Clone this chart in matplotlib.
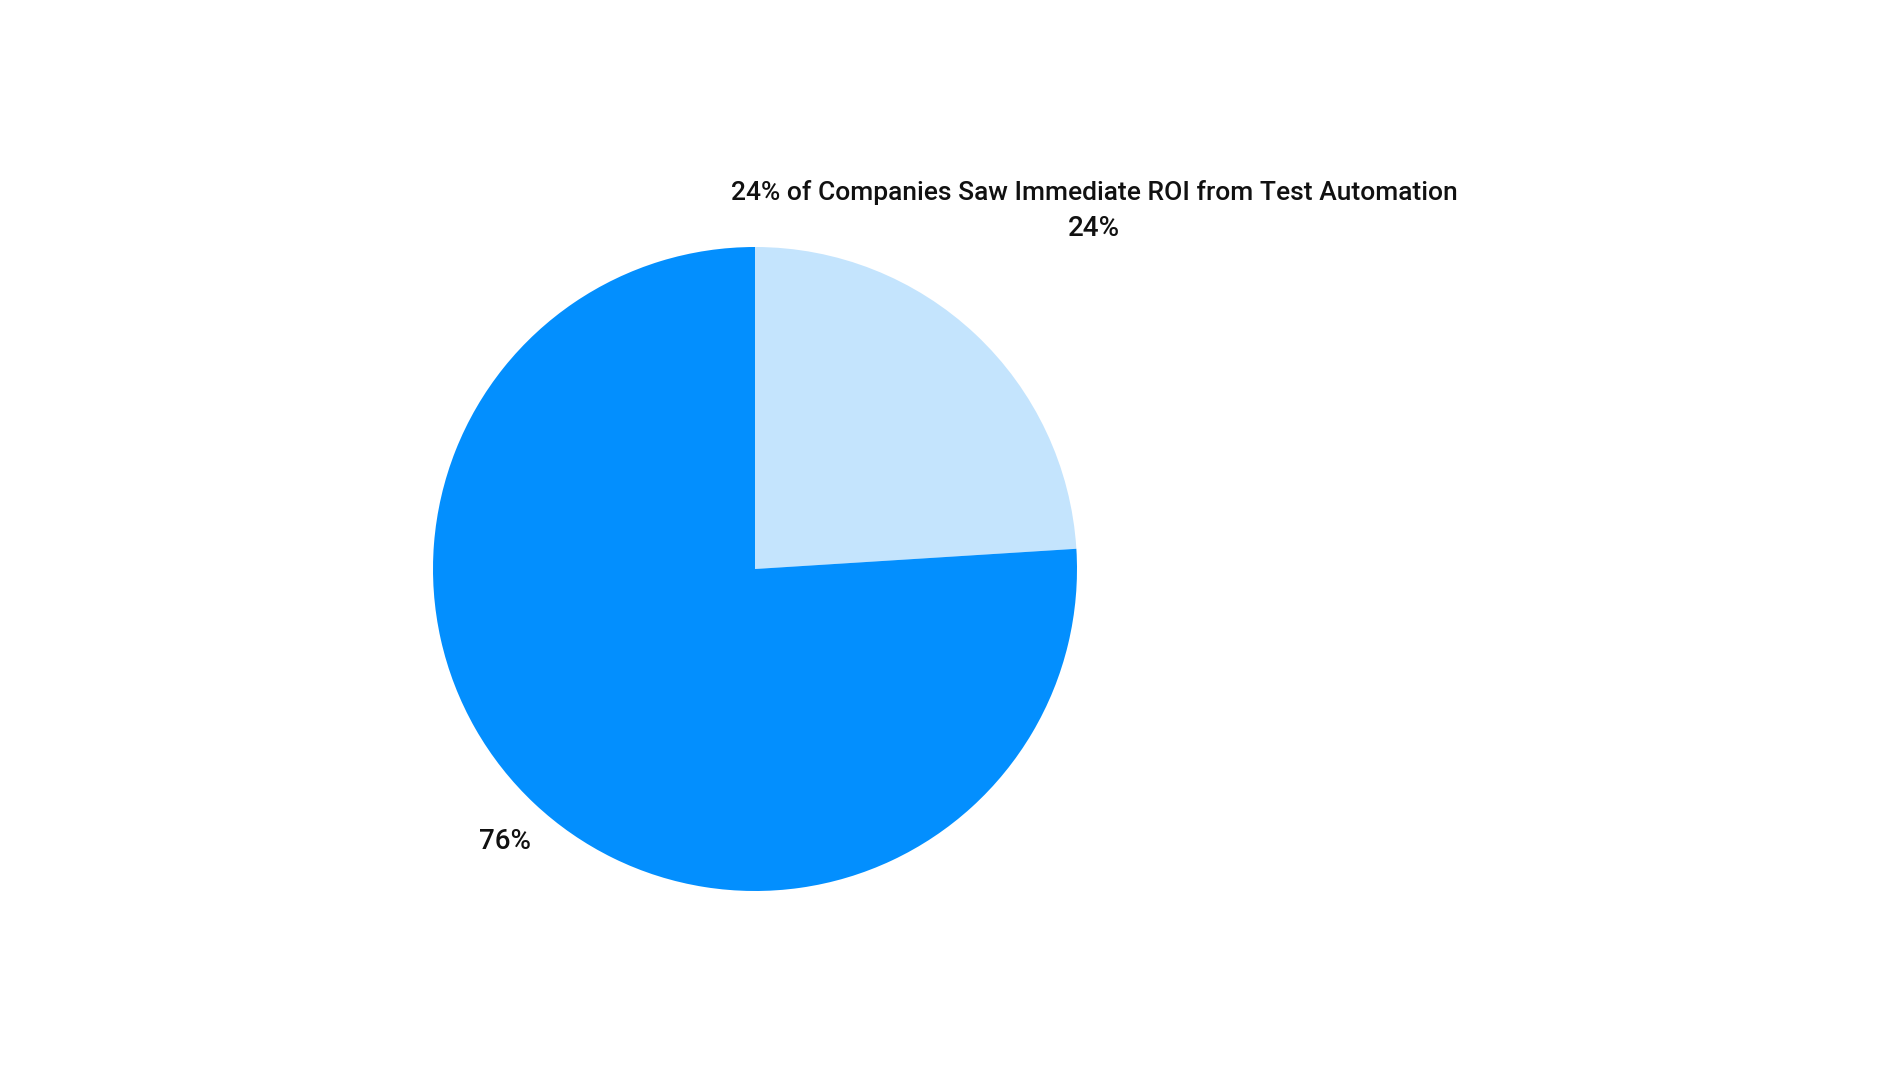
import matplotlib
matplotlib.use("Agg")
import matplotlib.pyplot as plt

categories = ["Saw immediate ROI", "Did not see immediate ROI"]
values = [24, 76]
labels = ["24%", "76%"]
colors = ["#c4e4fd", "#038ffe"]
title = "24% of Companies Saw Immediate ROI from Test Automation"

W, H = 1900, 1069
fig = plt.figure(figsize=(W / 100, H / 100), dpi=100)
plt.rcParams['font.family'] = ['Roboto', 'DejaVu Sans']

cx, cy, r = 755, 569, 322
ax = fig.add_axes([(cx - r) / W, (H - cy - r) / H, 2 * r / W, 2 * r / H])
ax.pie(values, colors=colors, startangle=90, counterclock=False, radius=1,
       wedgeprops=dict(linewidth=0))
ax.set_xlim(-1, 1)
ax.set_ylim(-1, 1)
ax.set_aspect('equal')
ax.axis('off')

fig.text(1094 / W, 1 - 192.5 / H, title, ha='center', va='center', fontsize=19,
         fontweight='medium', color='#111111')
fig.text(1094 / W, 1 - 229 / H, labels[0], ha='center', va='center', fontsize=20,
         fontweight='medium', color='#111111')
fig.text(505 / W, 1 - 841.5 / H, labels[1], ha='center', va='center', fontsize=20,
         fontweight='medium', color='#111111')

fig.savefig("out.png", dpi=100, facecolor='white')
